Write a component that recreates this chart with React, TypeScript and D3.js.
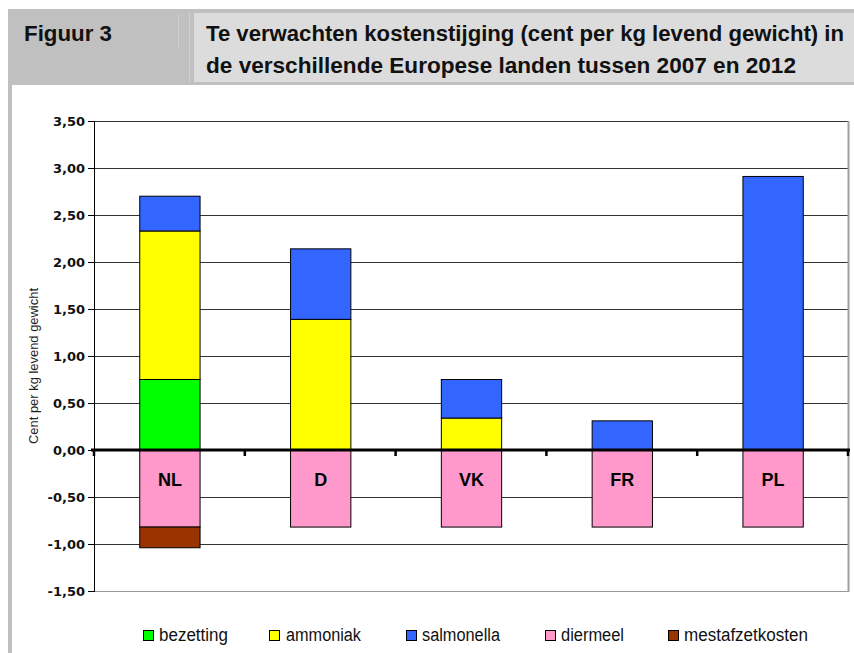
import React from "react";
import * as d3 from "d3";

const categories = ["NL", "D", "VK", "FR", "PL"];
const seriesNames = ["bezetting", "ammoniak", "salmonella", "diermeel", "mestafzetkosten"];
const bezetting = [0.75, 0, 0, 0, 0];
const ammoniak = [1.58, 1.39, 0.34, 0, 0];
const salmonella = [0.37, 0.75, 0.41, 0.31, 2.91];
const diermeel = [-0.82, -0.82, -0.82, -0.82, -0.82];
const mestafzetkosten = [-0.22, 0, 0, 0, 0];
const yTicks = [3.5, 3.0, 2.5, 2.0, 1.5, 1.0, 0.5, 0, -0.5, -1.0, -1.5];
const colors = ["#00ff00", "#ffff00", "#3366ff", "#ff99cc", "#993300"];
const titleLine1 = "Te verwachten kostenstijging (cent per kg levend gewicht) in";
const titleLine2 = "de verschillende Europese landen tussen 2007 en 2012";
const figLabel = "Figuur 3";
const yTitle = "Cent per kg levend gewicht";

const W = 854;
const H = 653;
const plotL = 94;
const plotR = 848;
const plotT = 121;
const plotB = 591;

export default function App() {
  const x = d3
    .scaleBand<string>()
    .domain(categories)
    .range([plotL, plotR])
    .paddingInner(0.6)
    .paddingOuter(0.3);
  const y = d3.scaleLinear().domain([-1.5, 3.5]).range([plotB, plotT]);
  const step = x.step();

  const rows = categories.map((c, i) => ({
    cat: c,
    bezetting: bezetting[i],
    ammoniak: ammoniak[i],
    salmonella: salmonella[i],
    diermeel: diermeel[i],
    mestafzetkosten: mestafzetkosten[i],
  }));
  const stacked = d3
    .stack<any>()
    .keys(seriesNames)
    .offset(d3.stackOffsetDiverging)(rows);

  const fmt = (v: number) => v.toFixed(2).replace(".", ",");

  const legendItems = [
    { sq: 143, tx: 159, tl: 69 },
    { sq: 269, tx: 286, tl: 75 },
    { sq: 406, tx: 422, tl: 78 },
    { sq: 545, tx: 561, tl: 63 },
    { sq: 668, tx: 684, tl: 124 },
  ];

  const boundaries = d3.range(categories.length + 1).map((i) => plotL + i * step);

  return (
    <svg
      width={W}
      height={H}
      style={{ position: "absolute", left: 0, top: 0, background: "#fff" }}
      fontFamily="'Liberation Sans', Arial, sans-serif"
    >
      {/* header */}
      <rect x={8} y={9} width={W - 8} height={76} fill="#c0c0c0" />
      <rect x={194} y={13} width={W - 194} height={69} fill="#dcdcdc" />
      <line x1={189.5} x2={189.5} y1={13} y2={82} stroke="#d2d2d2" />
      <line x1={178.5} x2={178.5} y1={14} y2={48} stroke="#cecece" />
      <rect x={8} y={85} width={4} height={H - 85} fill="#c0c0c0" />
      <text x={24} y={41} fontSize={22} fontWeight="bold" fill="#111" textLength={88} lengthAdjust="spacingAndGlyphs">
        {figLabel}
      </text>
      <text x={206} y={41} fontSize={22} fontWeight="bold" fill="#111" textLength={638} lengthAdjust="spacingAndGlyphs">
        {titleLine1}
      </text>
      <text x={206} y={73} fontSize={22} fontWeight="bold" fill="#111" textLength={590} lengthAdjust="spacingAndGlyphs">
        {titleLine2}
      </text>

      {/* gridlines */}
      {yTicks.map((t) =>
        t === 0 ? null : (
          <line
            key={"g" + t}
            x1={plotL}
            x2={plotR}
            y1={Math.round(y(t)) + 0.5}
            y2={Math.round(y(t)) + 0.5}
            stroke={t === -1.5 ? "#999" : "#333"}
            strokeWidth={1}
          />
        )
      )}
      <line x1={plotR + 0.5} x2={plotR + 0.5} y1={plotT} y2={plotB + 1} stroke="#a0a0a0" strokeWidth={2} />

      {/* bars */}
      {stacked.map((s, si) =>
        s.map((d, i) => {
          const v = (d.data as any)[seriesNames[si]];
          if (!v) return null;
          const y0 = y(Math.max(d[0], d[1]));
          const y1 = y(Math.min(d[0], d[1]));
          return (
            <rect
              key={seriesNames[si] + i}
              x={(x(categories[i]) as number) + 0.5}
              y={y0}
              width={x.bandwidth()}
              height={y1 - y0}
              fill={colors[si]}
              stroke="#000"
              strokeWidth={1}
            />
          );
        })
      )}

      {/* zero axis */}
      <line x1={plotL - 3} x2={plotR + 2} y1={y(0)} y2={y(0)} stroke="#000" strokeWidth={3} />
      {boundaries.map((bx, i) => (
        <line key={"bt" + i} x1={bx} x2={bx} y1={y(0)} y2={y(0) + 6} stroke="#000" strokeWidth={2.5} />
      ))}

      {/* category labels */}
      {categories.map((c) => (
        <text
          key={"c" + c}
          x={(x(c) as number) + x.bandwidth() / 2 + 0.5}
          y={486}
          textAnchor="middle"
          fontSize={18}
          fontWeight="bold"
          fill="#000"
        >
          {c}
        </text>
      ))}

      {/* y axis */}
      <line x1={plotL + 0.5} x2={plotL + 0.5} y1={plotT} y2={plotB + 1} stroke="#000" strokeWidth={1} />
      {yTicks.map((t) => (
        <g key={"yt" + t}>
          <line
            x1={plotL - 6}
            x2={plotL}
            y1={Math.round(y(t)) + 0.5}
            y2={Math.round(y(t)) + 0.5}
            stroke="#000"
          />
          <text
            x={85}
            y={y(t)}
            dy="0.36em"
            textAnchor="end"
            fontSize={13}
            fontWeight="bold"
            fontFamily="'DejaVu Sans', Verdana, sans-serif"
            fill="#111"
          >
            {fmt(t)}
          </text>
        </g>
      ))}
      <text
        transform={`translate(38,${366}) rotate(-90)`}
        textAnchor="middle"
        fontSize={13}
        fill="#222"
        textLength={156}
        lengthAdjust="spacingAndGlyphs"
      >
        {yTitle}
      </text>

      {/* legend */}
      {seriesNames.map((n, i) => (
        <g key={"lg" + n}>
          <rect x={legendItems[i].sq + 0.5} y={630.5} width={10} height={10} fill={colors[i]} stroke="#000" />
          <text
            x={legendItems[i].tx}
            y={641}
            fontSize={18}
            fill="#111"
            textLength={legendItems[i].tl}
            lengthAdjust="spacingAndGlyphs"
          >
            {n}
          </text>
        </g>
      ))}
    </svg>
  );
}
